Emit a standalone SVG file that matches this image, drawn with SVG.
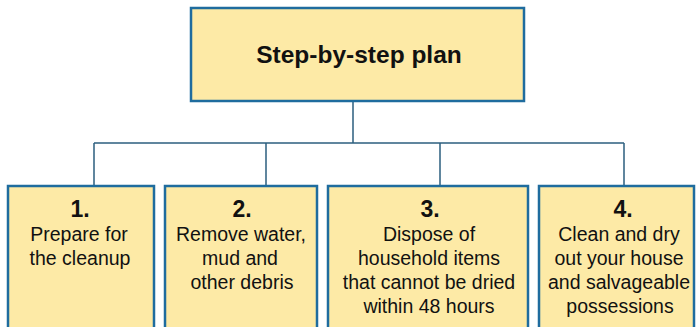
<svg xmlns="http://www.w3.org/2000/svg" width="696" height="327" viewBox="0 0 696 327">
<style>
.box{fill:#fdeaa6;stroke:#1f6c9e;stroke-width:2.5}
.conn{fill:none;stroke:#2c5f7f;stroke-width:1.5}
text{font-family:"Liberation Sans",Arial,sans-serif;fill:#111;text-anchor:middle}
.title{font-size:24.5px;font-weight:bold}
.num{font-size:23px;font-weight:bold}
.body{font-size:19.5px}
</style>
<rect width="696" height="327" fill="#fff"/>
<g id="connectors">
<path class="conn" d="M353 101V143M94 143H624M94 143V185M266 143V185M440 143V185M624 143V185"/>
</g>
<g id="root">
<rect class="box" x="191" y="8" width="333" height="93"/>
<text class="title" x="359" y="63">Step-by-step plan</text>
</g>
<g id="step1">
<rect class="box" x="8" y="186" width="146" height="150"/>
<text class="num" x="80" y="217">1.</text>
<text class="body" x="79" y="241">Prepare for</text>
<text class="body" x="80" y="265">the cleanup</text>
</g>
<g id="step2">
<rect class="box" x="165" y="186" width="152" height="150"/>
<text class="num" x="242" y="217">2.</text>
<text class="body" x="241" y="241">Remove water,</text>
<text class="body" x="240" y="265">mud and</text>
<text class="body" x="242" y="289">other debris</text>
</g>
<g id="step3">
<rect class="box" x="328" y="186" width="200" height="150"/>
<text class="num" x="430" y="217">3.</text>
<text class="body" x="429" y="241">Dispose of</text>
<text class="body" x="429" y="265">household items</text>
<text class="body" x="429" y="289">that cannot be dried</text>
<text class="body" x="429" y="313">within 48 hours</text>
</g>
<g id="step4">
<rect class="box" x="539" y="186" width="155" height="150"/>
<text class="num" x="623" y="217">4.</text>
<text class="body" x="619" y="241">Clean and dry</text>
<text class="body" x="619" y="265">out your house</text>
<text class="body" x="619" y="289">and salvageable</text>
<text class="body" x="620" y="313">possessions</text>
</g>
</svg>
